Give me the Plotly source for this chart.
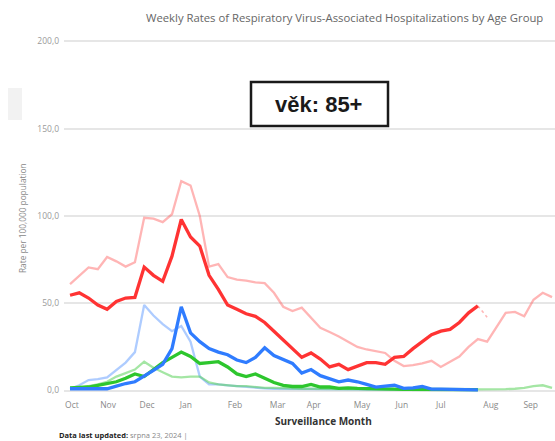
import plotly.graph_objects as go

W, H = 555, 441
weeks = list(range(53))

# current season (dark lines)
cur_65 = [54.6, 56, 53, 49, 46.5, 51, 53, 53.4, 70.7, 66, 62.6, 77, 98, 88, 82.8, 66, 58, 49, 46.5, 44,
          42.5, 39, 34, 29, 24, 19, 21.5, 18, 13.5, 15, 12, 14, 16, 16, 15, 19, 19.5, 24, 28, 32, 34, 35,
          39, 44.5, 48.5]
cur_covid = [1, 1, 1, 1, 1, 2.5, 4, 5, 8, 11.5, 15, 24, 48, 33, 28, 24, 22, 20.5, 17.5, 16, 19, 24.5, 20,
             17.5, 15.5, 10, 12, 8.5, 6.5, 5, 6, 5, 3.5, 2, 2.5, 3, 1.2, 1.5, 2.3, 0.8, 0.8, 0.6, 0.5, 0.4, 0.4]
cur_rsv = [1.5, 1.7, 2, 3, 4, 5, 7, 9.5, 8, 12, 16, 19, 22, 19.5, 15.5, 16, 16.5, 13.5, 9.5, 8, 9.5, 7, 4.6,
           3, 2.3, 2.3, 3.5, 2, 2, 1.2, 1.5, 1.2, 1, 0.9, 0.8, 0.8, 0.7, 0.7, 0.6, 0.6, 0.5, 0.5, 0.5, 0.5, 0.5]

# previous season (light lines)
prev_65 = [61, 65.5, 70.5, 69.5, 76.5, 74, 71, 73.5, 99, 98.5, 96.5, 101, 120, 117.5, 100, 71, 72.4, 65,
           63.5, 63, 62, 61.5, 56, 48, 45.5, 47.5, 42, 36, 33.5, 31, 28, 25, 23.5, 22.5, 21.5, 17, 14, 14.5,
           15.5, 17, 13.5, 16.5, 19.5, 25, 29.5, 28, 36, 44.5, 45, 42.5, 52, 56, 53.5]
prev_covid = [1, 3, 6, 6.5, 7.5, 12, 16, 22, 49, 43, 38, 34, 37, 28, 8, 3.5, 3.5, 3, 2.5, 2, 1.5, 1.2, 1,
              1, 0.9, 0.9, 0.8, 0.8, 0.7, 0.7, 0.6, 0.6, 0.5, 0.5, 0.5, 0.5, 0.4, 0.4, 0.4, 0.4, 0.4, 0.3,
              0.3, 0.3, 0.3]
prev_rsv = [1, 1.5, 2.5, 3.5, 5, 8, 10, 12, 16.5, 13, 10.5, 8, 7.5, 8, 8, 4.6, 3.5, 3, 2.5, 2.5, 2, 1.5,
            1.5, 1.2, 1, 1, 1, 0.9, 0.9, 0.8, 0.8, 0.7, 0.7, 0.6, 0.6, 0.6, 0.5, 0.5, 0.5, 0.5, 0.5, 0.5,
            0.5, 0.5, 0.5, 0.6, 0.7, 0.8, 1, 1.5, 2.5, 3, 1.5]

# faint dotted continuation after the current season's last point
proj_weeks = [44, 45]
proj_65 = [48.5, 42]

month_labels = ["Oct", "Nov", "Dec", "Jan", "Feb", "Mar", "Apr", "May", "Jun", "Jul", "Aug", "Sep"]
month_pos = [0.2, 4.1, 8.3, 12.5, 17.8, 22.4, 26.3, 31.5, 35.8, 40.0, 45.4, 49.7]
y_ticks = [0, 50, 100, 150, 200]
y_labels = ["0,0", "50,0", "100,0", "150,0", "200,0"]

FONT = "Open Sans"

# plot area in pixels
L, R, T, B = 64, 0, 38, 47
pw, ph = W - L - R, H - T - B


def px(x):
    return (x - L) / pw


def py(y):
    return 1 - (y - T) / ph


fig = go.Figure()


def add(ys, color, width, dash="solid", xs=None):
    fig.add_trace(go.Scatter(x=xs if xs is not None else weeks[:len(ys)], y=ys, mode="lines",
                             line=dict(color=color, width=width, dash=dash, shape="linear"),
                             hoverinfo="skip", showlegend=False))


add(prev_covid, "rgba(120,170,255,0.6)", 2.3)
add(prev_rsv, "rgba(90,210,90,0.55)", 2.3)
add(prev_65, "rgba(255,90,90,0.45)", 2.3)
add(proj_65, "rgba(255,90,90,0.45)", 1.5, "dot", proj_weeks)
add(cur_rsv, "#2dc62d", 3.3)
add(cur_covid, "#2f7cff", 3.3)
add(cur_65, "#ff3333", 3.3)

fig.update_layout(
    width=W, height=H,
    margin=dict(l=L, r=R, t=T, b=B),
    paper_bgcolor="white", plot_bgcolor="white",
    font=dict(family=FONT),
    xaxis=dict(range=[-0.65, 52.32], tickvals=month_pos, ticktext=month_labels,
               showgrid=False, zeroline=False, showline=False, ticks="",
               tickfont=dict(size=8.5, color="#8a8a8a", family=FONT), ticklabelstandoff=4),
    yaxis=dict(range=[-2, 202], tickvals=y_ticks, ticktext=y_labels,
               showgrid=True, gridcolor="#e6e6e6", gridwidth=2, zeroline=False, showline=False,
               ticks="", tickfont=dict(size=8.5, color="#9a9a9a", family=FONT), ticklabelstandoff=4),
)

annotations = [
    dict(text="Weekly Rates of Respiratory Virus-Associated Hospitalizations by Age Group",
         x=px(545), y=py(17), xref="paper", yref="paper", showarrow=False,
         xanchor="right", yanchor="middle", font=dict(size=11.3, color="#666666", family=FONT)),
    dict(text="<b>Surveillance Month</b>", x=px(323), y=py(421), xref="paper", yref="paper",
         showarrow=False, xanchor="center", yanchor="middle",
         font=dict(size=10, color="#333333", family=FONT)),
    dict(text="<b>Data last updated:</b> <span style='color:#888'>srpna 23, 2024 |</span>",
         x=px(57), y=py(435), xref="paper", yref="paper", showarrow=False,
         xanchor="left", yanchor="middle", font=dict(size=7.5, color="#222222", family=FONT)),
    dict(text="Rate per 100,000 population", x=px(22), y=py(218), xref="paper", yref="paper",
         showarrow=False, textangle=-90, xanchor="center", yanchor="middle",
         font=dict(size=8.3, color="#888888", family=FONT)),
    dict(text="<b>věk: 85+</b>", x=px(318), y=py(104), xref="paper", yref="paper",
         showarrow=False, xanchor="center", yanchor="middle",
         font=dict(size=22, color="#1a1a1a", family="Liberation Sans")),
]
fig.update_layout(annotations=annotations)

fig.add_shape(type="rect", xref="paper", yref="paper",
              x0=px(251), x1=px(388), y0=py(126), y1=py(82),
              line=dict(color="#1a1a1a", width=2.5), fillcolor="white", layer="above")
fig.add_shape(type="rect", xref="paper", yref="paper",
              x0=px(8), x1=px(22), y0=py(120), y1=py(88),
              line=dict(width=0), fillcolor="#f2f2f2", layer="above")

fig.write_html("out.html", config={"displayModeBar": False},
               post_script="document.body.style.margin='0px';")
